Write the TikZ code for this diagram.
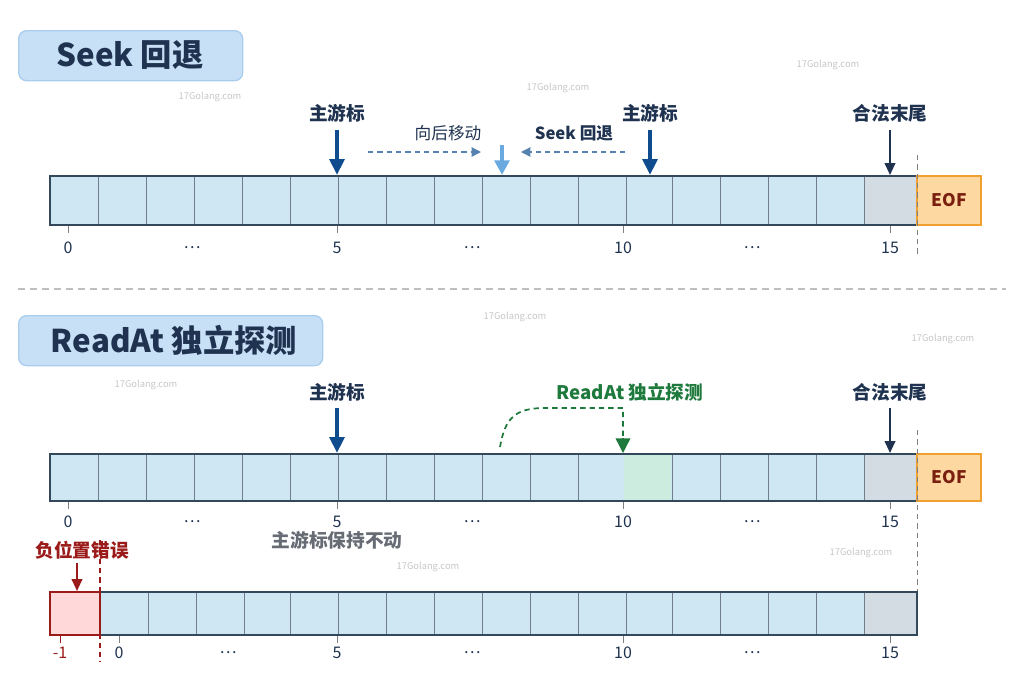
\documentclass[tikz,border=0pt]{standalone}
\usepackage{fontspec}
\setmainfont{Noto Sans CJK SC}
\usetikzlibrary{arrows.meta}
\definecolor{cellf}{HTML}{CFE7F3}
\definecolor{celld}{HTML}{34485C}
\definecolor{navy}{HTML}{1F3350}
\definecolor{arrb}{HTML}{0E4C8E}
\definecolor{arrl}{HTML}{6AAAE0}
\definecolor{grn}{HTML}{1E7A3C}
\definecolor{redd}{HTML}{9B1B1B}
\definecolor{titf}{HTML}{C8E0F6}
\definecolor{titd}{HTML}{A9CDEE}
\definecolor{grayc}{HTML}{D3DCE3}
\tikzset{
 cell/.style={draw=celld!70,fill=cellf,line width=0.5pt},
 lab/.style={font=\bfseries\fontsize{14}{16}\selectfont,text=navy},
 num/.style={font=\fontsize{12}{14}\selectfont,text=navy},
 big/.style={-{Triangle[length=12pt,width=11pt]},line width=2.8pt},
 thin/.style={-{Triangle[length=9pt,width=8pt]},line width=1.4pt},
 dsh/.style={dashed,line width=1pt,dash pattern=on 4pt off 3pt},
 title/.style={draw=titd,fill=titf,rounded corners=6pt,line width=1pt,anchor=north west,inner sep=0pt},
 ttext/.style={font=\bfseries\fontsize{23.5}{28}\selectfont,text=navy},
 wm/.style={font=\fontsize{7}{8}\selectfont,text=gray!45},
}
\begin{document}
\begin{tikzpicture}[x=0.75pt,y=-0.75pt]
\useasboundingbox (0,0) rectangle (1024,683);
% titles
\node[title,minimum width=224*0.75pt,minimum height=50*0.75pt] (t1) at (18,30) {};
\node[ttext] (t1t) at (130,55) {Seek 回退};
\node[title,minimum width=304*0.75pt,minimum height=50*0.75pt] (t2) at (18,315) {};
\node[ttext] (t2t) at (174,340) {ReadAt 独立探测};
\draw[gray!50,dash pattern=on 5pt off 4pt,line width=0.8pt] (18,289) -- (1006,289);
% watermarks
\foreach \x/\y/\n in {210/97/w1,558/88/w2,828/65/w3,515/317/w4,943/339/w5,146/385/w6,861/553/w7,428/567/w8}{
 \node[wm] (\n) at (\x,\y) {17Golang.com};}
% ---------- bar 1
\def\xs{50,98,146,194,242,290,338,386,434,482,530,578,626,672,720,768,816}
\foreach \a [count=\i] in \xs {\pgfmathsetmacro\b{\a+48}
 \draw[cell] (\a,176) rectangle (\b,225);}
\draw[cell,fill=grayc] (864,176) rectangle (917,225);
\draw[celld,line width=1.3pt] (50,176) rectangle (917,225);
\node[draw={rgb,255:red,240;green,160;blue,48},fill={rgb,255:red,253;green,216;blue,160},line width=1pt,minimum width=64*0.75pt,minimum height=49*0.75pt,inner sep=0pt,font=\bfseries\fontsize{13}{15}\selectfont,text={rgb,255:red,122;green,31;blue,16}] (eof1) at (949,200.5) {EOF};
\foreach \x/\t/\n in {68/0/a0,192/\dots/a1,337/5/a5,472/\dots/a6,623/10/a10,752/\dots/a11,890/15/a15}{
 \node[num] (\n) at (\x,248) {\t};}
\foreach \x in {68,337,623,890}{\draw[gray,line width=0.6pt] (\x,226) -- (\x,233);}
\node[lab] (m1) at (337,113) {主游标};
\draw[big,arrb] (337,130) -- (337,175);
\node[lab] (m2) at (650,113) {主游标};
\draw[big,arrb] (650,130) -- (650,175);
\node[lab] (e1) at (890,113) {合法末尾};
\draw[thin,navy] (890,130) -- (890,175);
\draw[arrl,-{Triangle[length=11pt,width=11pt]},line width=3pt] (502,145) -- (502,175);
\node[font=\fontsize{12.5}{14}\selectfont,text=navy] (b1) at (448,133) {向后移动};
\node[font=\bfseries\fontsize{12.5}{14}\selectfont,text=navy] (s1) at (574,133) {Seek 回退};
\coordinate (d1a) at (368,152); \coordinate (d1b) at (481,152);
\coordinate (d2a) at (625,152); \coordinate (d2b) at (521,152);
\draw[dsh,arrb!70,-{Triangle[length=7pt,width=7pt]}] (d1a) -- (d1b);
\draw[dsh,arrb!70,-{Triangle[length=7pt,width=7pt]}] (d2a) -- (d2b);
\draw[gray,dash pattern=on 4pt off 3pt,line width=0.7pt] (917,155) -- (917,256);
% ---------- bar 2
\foreach \a in \xs {\pgfmathsetmacro\b{\a+48}
 \draw[cell] (\a,454) rectangle (\b,501);}
\draw[cell,fill={rgb,255:red,204;green,236;blue,224},draw=none] (624,455) rectangle (671,500);
\draw[cell,fill=grayc] (864,454) rectangle (917,501);
\draw[celld,line width=1.3pt] (50,454) rectangle (917,501);
\node[draw={rgb,255:red,240;green,160;blue,48},fill={rgb,255:red,253;green,216;blue,160},line width=1pt,minimum width=64*0.75pt,minimum height=47*0.75pt,inner sep=0pt,font=\bfseries\fontsize{13}{15}\selectfont,text={rgb,255:red,122;green,31;blue,16}] (eof2) at (949,477.5) {EOF};
\foreach \x/\t/\n in {68/0/b0,192/\dots/b1x,337/5/b5,472/\dots/b6,623/10/b10,752/\dots/b11,890/15/b15}{
 \node[num] (\n) at (\x,522) {\t};}
\foreach \x in {68,337,623,890}{\draw[gray,line width=0.6pt] (\x,502) -- (\x,509);}
\node[lab] (m3) at (337,392) {主游标};
\draw[big,arrb] (337,408) -- (337,453);
\node[lab] (e2) at (890,392) {合法末尾};
\draw[thin,navy] (890,408) -- (890,453);
\node[lab,text=grn] (r1) at (630,392) {ReadAt 独立探测};
\coordinate (g0) at (500,447);
\draw[grn,line width=1.3pt,dash pattern=on 4pt off 3pt] (g0) .. controls (505,418) and (515,408) .. (545,408) -- (623,408) -- (623,440);
\draw[grn,-{Triangle[length=11pt,width=11pt]},line width=1pt] (623,438) -- (623,453);
\node[font=\bfseries\fontsize{14}{16}\selectfont,text=gray!75!navy] (keep) at (337,540) {主游标保持不动};
\draw[gray,dash pattern=on 4pt off 3pt,line width=0.7pt] (917,430) -- (917,592);
% ---------- bar 3
\foreach \a in {100,148,196,244,290,338,386,434,482,530,578,626,672,720,768,816} {\pgfmathsetmacro\b{\a+48}
 \draw[cell] (\a,592) rectangle (\b,635);}
\draw[cell,fill=grayc] (864,592) rectangle (917,635);
\draw[celld,line width=1.3pt] (100,592) rectangle (917,635);
\draw[redd,fill=red!15,line width=1pt] (50,592) rectangle (100,635);
\draw[redd,dash pattern=on 4pt off 3pt,line width=0.8pt] (100,540) -- (100,662);
\foreach \x/\t/\n in {119/0/c0,228/\dots/c1,337/5/c5,472/\dots/c6,623/10/c10,752/\dots/c11,890/15/c15}{
 \node[num] (\n) at (\x,653) {\t};}
\node[num,text=redd] (cm1) at (60,653) {-1};
\foreach \x in {119,337,623,890}{\draw[gray,line width=0.6pt] (\x,636) -- (\x,643);}
\draw[redd,line width=0.6pt] (60,636) -- (60,643);
\node[lab,text=redd] (neg) at (82,550) {负位置错误};
\draw[thin,redd] (77,563) -- (77,591);
\end{tikzpicture}
\end{document}
